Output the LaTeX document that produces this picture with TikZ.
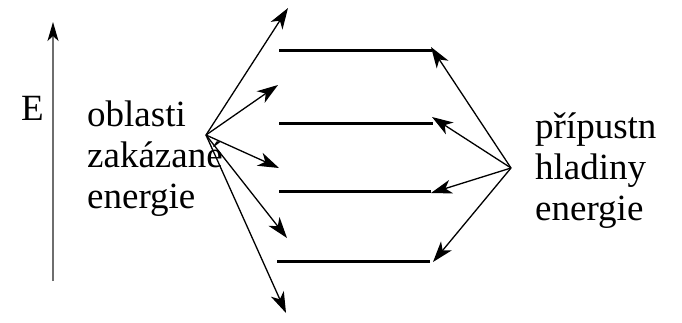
\documentclass[tikz,border=0pt]{standalone}
\usepackage{fontspec}
\newfontfamily\serfont{Liberation Serif}
\usetikzlibrary{arrows.meta}
\definecolor{axisgray}{HTML}{6E6E6E}
\tikzset{
  lbl/.style={anchor=base west, inner sep=0pt, align=left, font=\serfont\fontsize{37}{41}\selectfont},
  fan/.style={line width=1.3pt, -{Stealth[length=21pt, width=14pt, inset=6pt]}},
  level/.style={line width=3pt},
  axis/.style={line width=1.6pt, axisgray, -{Stealth[length=19pt, width=11pt, inset=5pt, color=black]}}
}
\begin{document}
\begin{tikzpicture}[x=1pt, y=-1pt]
\useasboundingbox (0,0) rectangle (682,322);
% energy axis
\coordinate (Ebot) at (53,281);
\coordinate (Etop) at (53,22);
\draw[axis] (Ebot) -- (Etop);
\node[lbl] (E) at (21,120) {E};
% labels (base anchor = baseline of last line)
\node[lbl] (left) at (87,208) {oblasti\\zakázané\\energie};
\node[lbl] (right) at (535,220) {přípustn\\hladiny\\energie};
% levels
\coordinate (a1) at (279,50);  \coordinate (b1) at (432,50);
\coordinate (a2) at (279,123); \coordinate (b2) at (433,123);
\coordinate (a3) at (279,191); \coordinate (b3) at (431,191);
\coordinate (a4) at (277,261); \coordinate (b4) at (430,261);
\draw[level] (a1) -- (b1);
\draw[level] (a2) -- (b2);
\draw[level] (a3) -- (b3);
\draw[level] (a4) -- (b4);
% left fan
\coordinate (L) at (206,135);
\coordinate (l1) at (288,8);
\coordinate (l2) at (278,85);
\coordinate (l3) at (279,168);
\coordinate (l4) at (287,238);
\coordinate (l5) at (286,313);
\foreach \t in {l1,l2,l3,l4,l5} \draw[fan] (L) -- (\t);
% right fan
\coordinate (R) at (511,168);
\coordinate (r1) at (431,47);
\coordinate (r2) at (432,117);
\coordinate (r3) at (431,193);
\coordinate (r4) at (433,262);
\foreach \t in {r1,r2,r3,r4} \draw[fan] (R) -- (\t);
\end{tikzpicture}
\end{document}
